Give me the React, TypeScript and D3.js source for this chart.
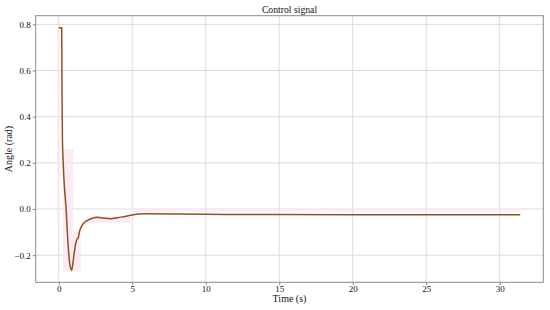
import { useEffect, useRef } from "react";
import * as d3 from "d3";

// control signal samples (time in s, angle in rad)
const timeS = [0, 0.18, 0.2, 0.22, 0.25, 0.3, 0.4, 0.5, 0.6, 0.7, 0.8, 0.88, 0.95, 1.05, 1.15, 1.25, 1.32, 1.4, 1.55, 1.75, 2.0, 2.3, 2.6, 3.0, 3.5, 4.0, 4.5, 5.0, 5.5, 6.0, 8, 10, 15, 20, 25, 31.4];
const angle = [0.785, 0.785, 0.785, 0.5, 0.3, 0.2, 0.08, 0.0, -0.12, -0.21, -0.255, -0.265, -0.24, -0.19, -0.15, -0.13, -0.125, -0.1, -0.075, -0.058, -0.048, -0.04, -0.036, -0.039, -0.042, -0.038, -0.032, -0.026, -0.022, -0.021, -0.022, -0.023, -0.024, -0.025, -0.025, -0.025];

// faint pink envelope blocks
const bandStart = [-0.12, 0.3, 1.0, 1.9, 4.9];
const bandEnd = [0.0, 1.0, 1.5, 4.9, 31.4];
const bandLow = [-0.05, -0.27, -0.27, -0.06, -0.012];
const bandHigh = [0.785, 0.26, -0.1, -0.032, 0.002];

const xTicks = [0, 5, 10, 15, 20, 25, 30];
const yTicks = [-0.2, 0.0, 0.2, 0.4, 0.6, 0.8];

export default function App() {
    const ref = useRef<SVGSVGElement>(null);

    useEffect(() => {
        const width = 550, height = 310;
        const margin = { left: 35.7, right: 6.7, top: 15.7, bottom: 27.7 };
        const svg = d3.select(ref.current);
        svg.selectAll("*").remove();

        const font = "Liberation Serif, Times New Roman, DejaVu Serif, serif";
        const x = d3.scaleLinear().domain([-1.57, 32.97]).range([margin.left, width - margin.right]);
        const y = d3.scaleLinear().domain([-0.3175, 0.8375]).range([height - margin.bottom, margin.top]);

        // grid
        const grid = svg.append("g");
        xTicks.forEach(t => {
            grid.append("line").attr("x1", x(t)).attr("x2", x(t))
                .attr("y1", margin.top).attr("y2", height - margin.bottom)
                .attr("stroke", "#dcdcdc").attr("stroke-width", 1);
        });
        yTicks.forEach(t => {
            grid.append("line").attr("x1", margin.left).attr("x2", width - margin.right)
                .attr("y1", y(t)).attr("y2", y(t))
                .attr("stroke", "#dcdcdc").attr("stroke-width", 1);
        });

        // pink band
        bandStart.forEach((s, i) => {
            svg.append("rect")
                .attr("x", x(s)).attr("width", x(bandEnd[i]) - x(s))
                .attr("y", y(bandHigh[i])).attr("height", y(bandLow[i]) - y(bandHigh[i]))
                .attr("fill", "#fde6f3").attr("opacity", 0.8);
        });

        // signal line
        const pts = timeS.map((t, i) => [t, angle[i]] as [number, number]);
        const line = d3.line<[number, number]>().x(d => x(d[0])).y(d => y(d[1])).curve(d3.curveMonotoneX);
        svg.append("path").attr("d", line(pts)).attr("fill", "none")
            .attr("stroke", "#94501f").attr("stroke-width", 1.5);

        // frame
        svg.append("rect").attr("x", margin.left).attr("y", margin.top)
            .attr("width", width - margin.left - margin.right)
            .attr("height", height - margin.top - margin.bottom)
            .attr("fill", "none").attr("stroke", "#8a8a8a").attr("stroke-width", 1);

        // axes
        const xAxis = svg.append("g").attr("transform", `translate(0,${height - margin.bottom})`)
            .call(d3.axisBottom(x).tickValues(xTicks).tickSize(3).tickPadding(0.5).tickFormat(d3.format("d")));
        const yAxis = svg.append("g").attr("transform", `translate(${margin.left},0)`)
            .call(d3.axisLeft(y).tickValues(yTicks).tickSize(3).tickPadding(2).tickFormat(d => d3.format(".1f")(d as number).replace("-", "\u2212")));
        [xAxis, yAxis].forEach(a => {
            a.attr("font-family", null);
            a.select(".domain").remove();
            a.selectAll("line").attr("stroke", "#8a8a8a");
            a.selectAll("text").style("font-family", font).attr("font-size", 9).attr("fill", "#111");
        });

        // labels
        svg.append("text").attr("x", (margin.left + width - margin.right) / 2).attr("y", 12.5)
            .attr("text-anchor", "middle").style("font-family", font).attr("font-size", 9.7)
            .attr("fill", "#111").text("Control signal");
        svg.append("text").attr("x", (margin.left + width - margin.right) / 2).attr("y", 302)
            .attr("text-anchor", "middle").style("font-family", font).attr("font-size", 10)
            .attr("fill", "#111").text("Time (s)");
        svg.append("text").attr("transform", `translate(12,${(margin.top + height - margin.bottom) / 2}) rotate(-90)`)
            .attr("text-anchor", "middle").style("font-family", font).attr("font-size", 10)
            .attr("fill", "#111").text("Angle (rad)");
    }, []);

    return (
        <svg ref={ref} width={550} height={310}
            style={{ position: "absolute", left: 0, top: 0, background: "#fff" }} />
    );
}
